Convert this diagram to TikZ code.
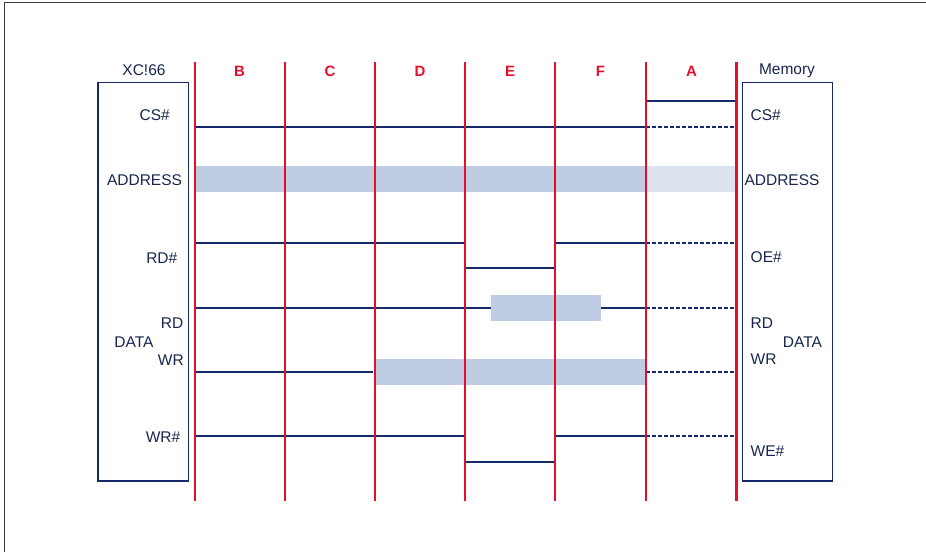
\documentclass[tikz,border=0pt]{standalone}
\usepackage{fontspec}
\setmainfont{Liberation Sans}
\definecolor{navy}{HTML}{14286A}
\definecolor{txt}{HTML}{18264E}
\definecolor{redl}{HTML}{E3102C}
\definecolor{bandc}{HTML}{BFCCE4}
\definecolor{bandl}{HTML}{DCE3EF}
\definecolor{framec}{HTML}{3A3A3A}
\tikzset{
  sig/.style={draw=navy, line width=1.8pt},
  dsig/.style={draw=navy, line width=2pt, dash pattern=on 4pt off 2pt},
  tsig/.style={draw=navy!60, line width=0.8pt},
  redline/.style={draw=redl, line width=1.7pt},
  chipbox/.style={draw=navy, line width=1.6pt},
  lbl/.style={text=txt, font=\fontsize{15.5}{18}\selectfont, inner sep=0pt},
  collbl/.style={text=redl, font=\fontsize{15}{17}\selectfont\bfseries, inner sep=0pt},
}
\begin{document}
\begin{tikzpicture}[x=1pt,y=-1pt]
\useasboundingbox (0,0) rectangle (926,552);
% frame
\draw[framec, line width=1.8pt] (4.5,552) -- (4.5,2.5) -- (926,2.5);
% bands
\fill[bandc] (194.7,166) rectangle (645.7,191.7);
\fill[bandl] (645.7,166) rectangle (736,191.7);
\fill[bandc] (491,295) rectangle (601,320.7);
\fill[bandc] (376,359) rectangle (645.7,384.7);
% CS#
\draw[sig] (194.7,127) -- (645.7,127);
\draw[dsig] (645.7,127) -- (736,127);
\draw[sig] (736,101) -- (645.7,101) -- (645.7,127);
% RD#
\draw[sig] (194.7,243) -- (465,243);
\draw[tsig] (465,243) -- (465,268);
\draw[sig] (465,268) -- (555,268);
\draw[tsig] (555,268) -- (555,243);
\draw[sig] (555,243) -- (645.7,243);
\draw[dsig] (645.7,243) -- (736,243);
% RD data
\draw[sig] (194.7,308) -- (491,308);
\draw[sig] (601,308) -- (645.7,308);
\draw[dsig] (645.7,308) -- (736,308);
% WR data
\draw[sig] (194.7,372) -- (372.7,372);
\draw[dsig] (645.7,372) -- (736,372);
% WR#
\draw[sig] (194.7,436) -- (465,436);
\draw[tsig] (465,436) -- (465,462);
\draw[sig] (465,462) -- (555,462);
\draw[tsig] (555,462) -- (555,436);
\draw[sig] (555,436) -- (645.7,436);
\draw[dsig] (645.7,436) -- (736,436);
% red lines
\foreach \x in {194.7,284.7,375,465,555,645.7} \draw[redline] (\x,62) -- (\x,501);
\draw[redl, line width=2.6pt] (736.5,62) -- (736.5,501);
% column labels
\node[collbl] (cB) at (239.5,71) {B};
\node[collbl] (cC) at (330,71) {C};
\node[collbl] (cD) at (420,71) {D};
\node[collbl] (cE) at (510,71) {E};
\node[collbl] (cF) at (600.5,71) {F};
\node[collbl] (cA) at (691.5,71) {A};
% boxes
\draw[chipbox] (97.7,82.3) rectangle (188.3,481);
\draw[chipbox] (742.3,82.3) rectangle (832.3,481);
\node[lbl] (xc) at (144,70.5) {XC!66};
\node[lbl] (mem) at (787,70.5) {Memory};
% left labels
\node[lbl, anchor=east] (lcs) at (170,115) {CS\#};
\node[lbl] (ladr) at (144.5,180) {ADDRESS};
\node[lbl, anchor=east] (lrd) at (177.5,258) {RD\#};
\node[lbl, anchor=east] (lrdd) at (183.5,323) {RD};
\node[lbl] (ldata) at (134,342) {DATA};
\node[lbl, anchor=east] (lwr) at (184,360) {WR};
\node[lbl, anchor=east] (lwrn) at (180.5,437) {WR\#};
% right labels
\node[lbl, anchor=west] (rcs) at (750.5,115) {CS\#};
\node[lbl] (radr) at (782,180) {ADDRESS};
\node[lbl, anchor=west] (roe) at (750.5,257) {OE\#};
\node[lbl, anchor=west] (rrd) at (750.5,323) {RD};
\node[lbl] (rdata) at (802.5,342) {DATA};
\node[lbl, anchor=west] (rwr) at (750.5,359) {WR};
\node[lbl, anchor=west] (rwe) at (750.5,451) {WE\#};
\end{tikzpicture}
\end{document}
